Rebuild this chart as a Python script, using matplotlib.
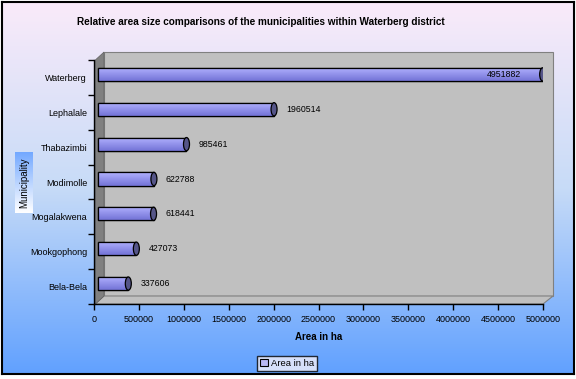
import matplotlib
matplotlib.use("Agg")
import matplotlib.pyplot as plt
import matplotlib.transforms as mtrans
from matplotlib.patches import Ellipse, Polygon, Rectangle
import numpy as np

plt.rcParams['font.family'] = ['Liberation Sans', 'DejaVu Sans']

# data (bottom to top, as drawn)
municipalities = ["Bela-Bela", "Mookgophong", "Mogalakwena", "Modimolle",
                  "Thabazimbi", "Lephalale", "Waterberg"]
area_ha = [337606, 427073, 618441, 622788, 985461, 1960514, 4951882]
xticks = [0, 500000, 1000000, 1500000, 2000000, 2500000, 3000000,
          3500000, 4000000, 4500000, 5000000]

W, H, DPI = 576, 379, 100
fig = plt.figure(figsize=(W / DPI, H / DPI), dpi=DPI)
fig.patch.set_facecolor("white")

def px(x0, y0, x1, y1):
    # pixel box (top-left origin) -> figure fraction rect
    return [x0 / W, 1 - y1 / H, (x1 - x0) / W, (y1 - y0) / H]

#===============================================================
# background gradient
#===============================================================
bg = fig.add_axes(px(2, 2, 574, 374), zorder=0)
t = np.linspace(0, 1, 256)[:, None]
top = np.array([0.98, 0.92, 0.98])
mid = np.array([0.78, 0.86, 0.97])
bot = np.array([0.38, 0.63, 1.0])
grad = np.where(t < 0.5, top + (mid - top) * (t / 0.5), mid + (bot - mid) * ((t - 0.5) / 0.5))
bg.imshow(grad[:, None, :].repeat(2, axis=1), aspect="auto", extent=[0, 1, 0, 1])
bg.set_xticks([]); bg.set_yticks([])
for s in bg.spines.values():
    s.set_linewidth(1.5)
    s.set_color("black")

#===============================================================
# main axes
#===============================================================
ax = fig.add_axes(px(94, 60, 543, 304), zorder=2)
ax.set_facecolor("none")
ax.set_xlim(0, 5000000)
ax.set_ylim(-0.5, len(municipalities) - 0.5)

# 3d walls (depth offset in pixels)
dx, dy = 10, 8
fx = dx / 449
fy = dy / 244
wallkw = dict(transform=ax.transAxes, clip_on=False, zorder=0.5)
ax.add_patch(Rectangle((fx, fy), 1, 1, facecolor="#C0C0C0", edgecolor="#808080", lw=0.8, **wallkw))
ax.add_patch(Polygon([(0.003, 0), (1, 0), (1 + fx, fy), (fx, fy)], closed=True,
                     facecolor="#C0C0C0", edgecolor="#808080", lw=0.8, **wallkw))
ax.add_patch(Polygon([(0.003, 0), (fx, fy), (fx, 1 + fy), (0.003, 1)], closed=True,
                     facecolor="#808080", edgecolor="#606060", lw=0.5, **wallkw))

# bars, shifted into the depth
shift = mtrans.ScaledTranslation(4 / DPI, 3 / DPI, fig.dpi_scale_trans)
btrans = ax.transData + shift
ypos = np.arange(len(municipalities))
bh = 0.38
bars = ax.barh(ypos, area_ha, height=bh, color="#9999FF", edgecolor="black",
               linewidth=0.9, transform=btrans, zorder=3)
shade = np.linspace(0, 1, 64)[:, None]
c_top = np.array([0.70, 0.70, 1.0])
c_bot = np.array([0.45, 0.45, 0.84])
bar_grad = (c_bot + (c_top - c_bot) * shade)[:, None, :].repeat(2, axis=1)
capw = 6 / 449 * 5000000
for b, v, y in zip(bars, area_ha, ypos):
    im = ax.imshow(bar_grad, aspect="auto", origin="lower",
                   extent=[0, v, y - bh / 2, y + bh / 2], transform=btrans, zorder=3.1)
    im.set_clip_path(b)
    ax.add_patch(Rectangle((0, y - bh / 2), v, bh, facecolor="none", edgecolor="black",
                           lw=0.9, transform=btrans, zorder=3.2))
    ax.add_patch(Ellipse((v, y), capw, bh, facecolor="#555588", edgecolor="black",
                         lw=0.9, transform=btrans, zorder=3.3))
    if v > 0.9 * 5000000:
        off = mtrans.ScaledTranslation(-18 / DPI, 3 / DPI, fig.dpi_scale_trans)
        ax.text(v, y, str(v), ha="right", va="center", fontsize=6.3,
                transform=ax.transData + off, zorder=4)
    else:
        off = mtrans.ScaledTranslation(16 / DPI, 3 / DPI, fig.dpi_scale_trans)
        ax.text(v, y, str(v), ha="left", va="center", fontsize=6.3,
                transform=ax.transData + off, zorder=4)

ax.set_ylim(-0.5, len(municipalities) - 0.5)
ax.set_xlim(0, 5000000)

# axes styling
for side in ["top", "right"]:
    ax.spines[side].set_visible(False)
ax.spines["left"].set_linewidth(1.0)
ax.spines["bottom"].set_linewidth(1.0)
ax.set_xticks(xticks)
ax.set_xticklabels([str(x) for x in xticks], fontsize=6.5)
ax.set_yticks(np.arange(len(municipalities) + 1) - 0.5)
ax.set_yticklabels([])
ax.set_yticks(ypos, minor=True)
ax.set_yticklabels(municipalities, minor=True, fontsize=6.5)
ax.tick_params(axis="y", which="minor", length=0, pad=5)
ax.tick_params(axis="y", which="major", length=4, width=1, direction="out")
ax.tick_params(axis="x", length=4, width=1, direction="out", pad=4)
ax.set_xlabel("Area in ha", fontsize=7, fontweight="bold", labelpad=6)

fig.text(261 / W, 1 - 22 / H, "Relative area size comparisons of the municipalities within Waterberg district",
         ha="center", va="center", fontsize=7.2, fontweight="bold")

# y label with gradient box
yl = fig.add_axes(px(15, 152, 33, 213), zorder=3)
g2 = np.linspace(0, 1, 64)[:, None]
c1 = np.array([0.45, 0.66, 1.0])
c2 = np.array([1.0, 1.0, 1.0])
yl.imshow((c1 + (c2 - c1) * g2)[:, None, :].repeat(2, axis=1), aspect="auto", extent=[0, 1, 0, 1])
yl.set_xticks([]); yl.set_yticks([])
for s in yl.spines.values():
    s.set_visible(False)
yl.text(0.5, 0.5, "Municipality", rotation=90, ha="center", va="center", fontsize=7,
        transform=yl.transAxes)

# legend
proxy = Rectangle((0, 0), 1, 1, facecolor="#B8B8F4", edgecolor="black", lw=0.8)
leg = fig.legend([proxy], ["Area in ha"], loc="center", bbox_to_anchor=(287 / W, 1 - 363.5 / H),
                 fontsize=6.8, frameon=True, fancybox=False, handlelength=0.8, handleheight=0.8,
                 handletextpad=0.3, borderpad=0.3, borderaxespad=0)
leg.get_frame().set_edgecolor("black")
leg.get_frame().set_linewidth(1.0)
leg.get_frame().set_facecolor("#F4F0FA")

fig.savefig("out.png", dpi=DPI)
